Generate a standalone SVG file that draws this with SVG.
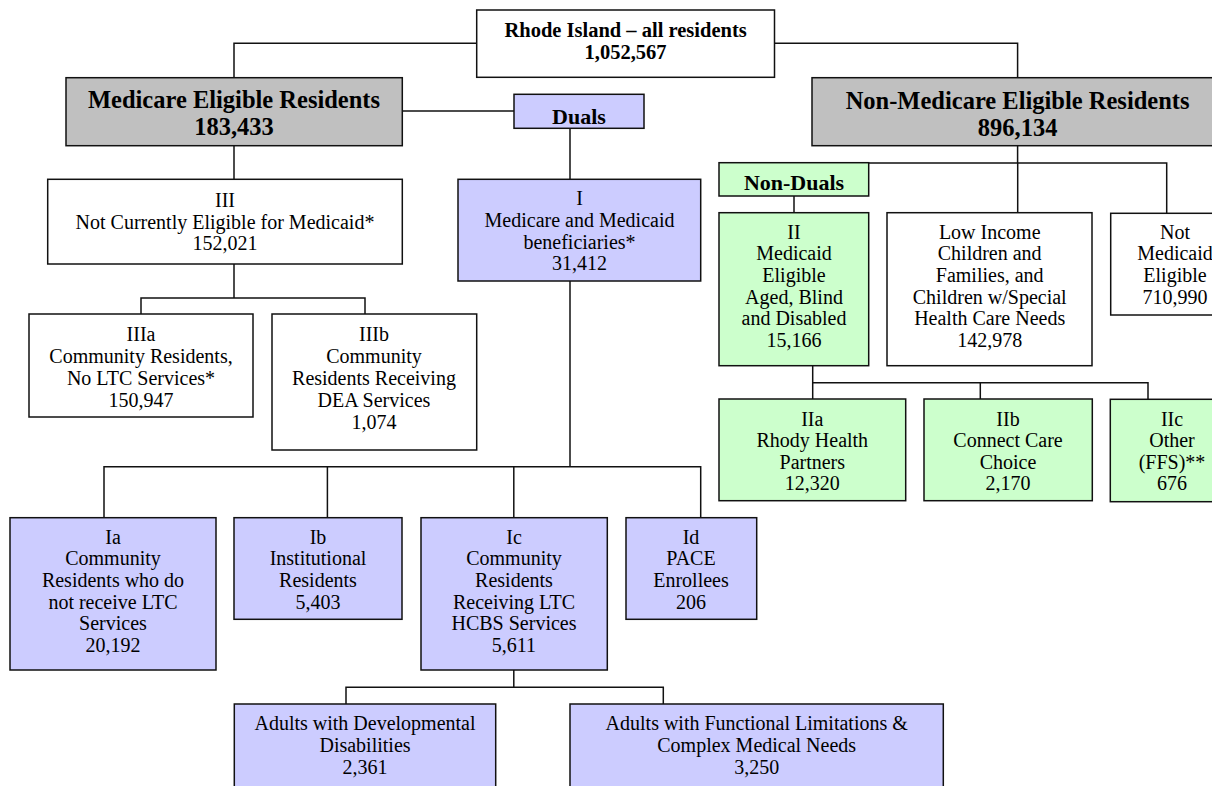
<svg xmlns="http://www.w3.org/2000/svg" width="1212" height="786" viewBox="0 0 1212 786">
<style>
.b{stroke:#111;stroke-width:1.5}
.w{fill:#fff}
.g{fill:#c0c0c0}
.p{fill:#ccccff}
.n{fill:#ccffcc}
.c{fill:none;stroke:#111;stroke-width:1.5}
text{font-family:"Liberation Serif","Times New Roman","Tinos","Noto Serif","DejaVu Serif",serif;font-size:20px;font-weight:normal;fill:#000;text-anchor:middle}
.t{font-weight:bold;font-size:20.5px}
.h{font-weight:bold;font-size:24.5px}
.d{font-weight:bold;font-size:22px}
</style>
<rect width="1212" height="786" fill="#fff"/>
<g id="connectors">
<path class="c" d="M476.7,43.3H234V77.7"/>
<path class="c" d="M774.5,43.3H1017.6V77.7"/>
<path class="c" d="M402.3,111H514"/>
<path class="c" d="M234,145.7V179.3"/>
<path class="c" d="M570,128.3V179.3"/>
<path class="c" d="M234,264V298"/>
<path class="c" d="M141,314V298H365V314"/>
<path class="c" d="M570,281V466.7"/>
<path class="c" d="M104,517.7V466.7H700.7V517.7"/>
<path class="c" d="M327.4,466.7V517.7"/>
<path class="c" d="M513.8,466.7V517.7"/>
<path class="c" d="M513.8,670V687.3"/>
<path class="c" d="M346,704V687.3H663.3V704"/>
<path class="c" d="M1017.6,145.7V163"/>
<path class="c" d="M794,163H1166.7V213.3"/>
<path class="c" d="M794,163V212.7"/>
<path class="c" d="M1017.7,163V212.7"/>
<path class="c" d="M812.7,365.7V399"/>
<path class="c" d="M812.7,382.7H1148V399"/>
<path class="c" d="M980.3,382.7V399"/>
</g>
<g id="ri">
<rect class="b w" x="476.7" y="10" width="297.8" height="67.3"/>
<text class="t" x="625.6" y="36.5">Rhode Island – all residents</text>
<text class="t" x="625.6" y="58.5">1,052,567</text>
</g>
<g id="medicare">
<rect class="b g" x="66" y="77.7" width="336.3" height="68"/>
<text class="h" x="234" y="107.5">Medicare Eligible Residents</text>
<text class="h" x="234" y="135">183,433</text>
</g>
<g id="nonmedicare">
<rect class="b g" x="812" y="77.7" width="411" height="68"/>
<text class="h" x="1017.6" y="108.5">Non-Medicare Eligible Residents</text>
<text class="h" x="1017.6" y="136">896,134</text>
</g>
<g id="duals">
<rect class="b p" x="514" y="94.3" width="130" height="34"/>
<text class="d" x="579" y="123.5">Duals</text>
</g>
<g id="iii">
<rect class="b w" x="47.7" y="179.3" width="354.6" height="84.7"/>
<text x="225" y="206.5">III</text>
<text x="225" y="228.5">Not Currently Eligible for Medicaid*</text>
<text x="225" y="249.5">152,021</text>
</g>
<g id="iiia">
<rect class="b w" x="29" y="314" width="224" height="103"/>
<text x="141" y="341">IIIa</text>
<text x="141" y="363">Community Residents,</text>
<text x="141" y="385">No LTC Services*</text>
<text x="141" y="407">150,947</text>
</g>
<g id="iiib">
<rect class="b w" x="272" y="314" width="204.7" height="136"/>
<text x="374" y="341">IIIb</text>
<text x="374" y="363">Community</text>
<text x="374" y="385">Residents Receiving</text>
<text x="374" y="407">DEA Services</text>
<text x="374" y="429">1,074</text>
</g>
<g id="i">
<rect class="b p" x="458" y="179.3" width="242.7" height="101.7"/>
<text x="579.5" y="205.3">I</text>
<text x="579.5" y="227">Medicare and Medicaid</text>
<text x="579.5" y="248.5">beneficiaries*</text>
<text x="579.5" y="270.3">31,412</text>
</g>
<g id="nonduals">
<rect class="b n" x="719" y="162.7" width="149.7" height="33.3"/>
<text class="d" x="794" y="190">Non-Duals</text>
</g>
<g id="ii">
<rect class="b n" x="719" y="212.7" width="149.7" height="153"/>
<text x="794" y="238.7">II</text>
<text x="794" y="260.3">Medicaid</text>
<text x="794" y="282">Eligible</text>
<text x="794" y="303.7">Aged, Blind</text>
<text x="794" y="325.3">and Disabled</text>
<text x="794" y="347">15,166</text>
</g>
<g id="lowincome">
<rect class="b w" x="887" y="212.7" width="205" height="153"/>
<text x="989.7" y="238.7">Low Income</text>
<text x="989.7" y="260.3">Children and</text>
<text x="989.7" y="282">Families, and</text>
<text x="989.7" y="303.7">Children w/Special</text>
<text x="989.7" y="325.3">Health Care Needs</text>
<text x="989.7" y="347">142,978</text>
</g>
<g id="notmedicaid">
<rect class="b w" x="1110.7" y="213.3" width="130" height="101.7"/>
<text x="1175" y="238.7">Not</text>
<text x="1175" y="260.3">Medicaid</text>
<text x="1175" y="282">Eligible</text>
<text x="1175" y="303.7">710,990</text>
</g>
<g id="iia">
<rect class="b n" x="719" y="399" width="186.7" height="101.7"/>
<text x="812.3" y="426">IIa</text>
<text x="812.3" y="447.3">Rhody Health</text>
<text x="812.3" y="469">Partners</text>
<text x="812.3" y="490.3">12,320</text>
</g>
<g id="iib">
<rect class="b n" x="924" y="399" width="168.3" height="101.7"/>
<text x="1008" y="426">IIb</text>
<text x="1008" y="447.3">Connect Care</text>
<text x="1008" y="469">Choice</text>
<text x="1008" y="490.3">2,170</text>
</g>
<g id="iic">
<rect class="b n" x="1110.3" y="399.3" width="124" height="102.4"/>
<text x="1172" y="426">IIc</text>
<text x="1172" y="447.3">Other</text>
<text x="1172" y="469">(FFS)**</text>
<text x="1172" y="490.3">676</text>
</g>
<g id="ia">
<rect class="b p" x="10" y="517.7" width="206" height="152.3"/>
<text x="113" y="543.7">Ia</text>
<text x="113" y="565.3">Community</text>
<text x="113" y="587">Residents who do</text>
<text x="113" y="608.7">not receive LTC</text>
<text x="113" y="630.3">Services</text>
<text x="113" y="652">20,192</text>
</g>
<g id="ib">
<rect class="b p" x="234" y="517.7" width="168" height="101.6"/>
<text x="318" y="543.7">Ib</text>
<text x="318" y="565.3">Institutional</text>
<text x="318" y="587">Residents</text>
<text x="318" y="608.7">5,403</text>
</g>
<g id="ic">
<rect class="b p" x="421" y="517.7" width="186.3" height="152.3"/>
<text x="514" y="543.7">Ic</text>
<text x="514" y="565.3">Community</text>
<text x="514" y="587">Residents</text>
<text x="514" y="608.7">Receiving LTC</text>
<text x="514" y="630.3">HCBS Services</text>
<text x="514" y="652">5,611</text>
</g>
<g id="id">
<rect class="b p" x="626" y="517.7" width="130.7" height="101.6"/>
<text x="691" y="543.7">Id</text>
<text x="691" y="565.3">PACE</text>
<text x="691" y="587">Enrollees</text>
<text x="691" y="608.7">206</text>
</g>
<g id="dd">
<rect class="b p" x="234.3" y="704" width="261.4" height="100"/>
<text x="365" y="730.3">Adults with Developmental</text>
<text x="365" y="752">Disabilities</text>
<text x="365" y="773.7">2,361</text>
</g>
<g id="fl">
<rect class="b p" x="570" y="704" width="373.3" height="100"/>
<text x="756.7" y="730.3">Adults with Functional Limitations &amp;</text>
<text x="756.7" y="752">Complex Medical Needs</text>
<text x="756.7" y="773.7">3,250</text>
</g>
</svg>
